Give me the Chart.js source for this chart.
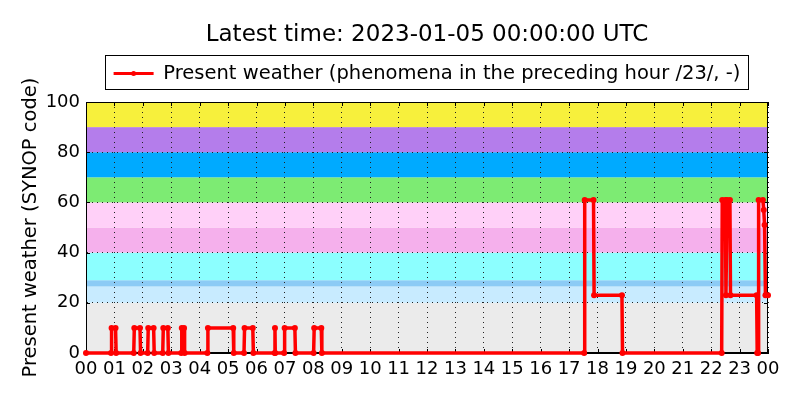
<!DOCTYPE html>
<html>
<head>
<meta charset="utf-8">
<script src="https://cdn.jsdelivr.net/npm/chart.js@4"></script>
<style>
body{margin:0;background:#fff;}
#wrap{width:800px;height:400px;}
</style>
</head>
<body>
<div id="wrap"><canvas id="myChart" width="800" height="400"></canvas></div>
<script>
// hours since 2023-01-04 00:00 UTC
var hours = [0,
  0.88,0.9,1.04,1.06,
  1.68,1.7,1.9,1.92,
  2.17,2.19,2.38,2.4,
  2.7,2.72,2.88,2.9,
  3.35,3.37,3.45,3.47,
  4.27,4.29,5.18,5.2,
  5.56,5.58,5.87,5.89,
  6.64,6.65,6.66,
  6.97,6.99,7.35,7.37,
  8.01,8.03,8.28,8.3,
  17.53,17.55,17.86,17.88,18.86,18.88,
  22.37,22.39,22.5,22.52,22.56,22.66,22.68,23.6,23.62,23.65,23.67,23.82,23.85,23.88,23.91,24];
var ww = [0,
  0,10,10,0,
  0,10,10,0,
  0,10,10,0,
  0,10,10,0,
  0,10,10,0,
  0,10,10,0,
  0,10,10,0,
  0,10,0,
  0,10,10,0,
  0,10,10,0,
  0,61,61,23,23,0,
  0,61,61,23,61,61,23,23,0,0,61,61,57,51,23,23];
var xTicks = ["00","01","02","03","04","05","06","07","08","09","10","11","12","13","14","15","16","17","18","19","20","21","22","23","00"];
var yTicks = [0,20,40,60,80,100];
// SYNOP code bands
var bandFrom = [0,20,26.5,29,40,50,60,70,80,90];
var bandTo   = [20,26.5,29,40,50,60,70,80,90,100];
var bandCol  = ["#ebebeb","#c8ebff","#8ccbf5","#8cffff","#f5b0ec","#ffd0f8","#7deb73","#00aaff","#b47deb","#f7f03c"];

var pts = [];
for(var i=0;i<hours.length;i++){ pts.push({x:hours[i], y:ww[i]}); }

var bands = {
  id:'bands',
  beforeDraw:function(chart){
    var c=chart.ctx, a=chart.chartArea, y=chart.scales.y;
    c.save();
    c.fillStyle='#fff'; c.fillRect(0,0,chart.width,chart.height);
    for(var i=0;i<bandFrom.length;i++){
      var t=y.getPixelForValue(bandTo[i]), b=y.getPixelForValue(bandFrom[i]);
      c.fillStyle=bandCol[i];
      c.fillRect(a.left,t,a.right-a.left,b-t);
    }
    c.restore();
  },
  beforeDatasetsDraw:function(chart){
    var c=chart.ctx, a=chart.chartArea, x=chart.scales.x, y=chart.scales.y;
    c.save();
    c.strokeStyle='#000'; c.lineWidth=1;
    c.strokeRect(a.left+0.5,a.top+0.5,a.right-a.left-1,a.bottom-a.top-1);
    c.beginPath();
    for(var h=0;h<=24;h++){
      var px=Math.round(x.getPixelForValue(h))+0.5;
      c.moveTo(px,a.bottom); c.lineTo(px,a.bottom-4);
      c.moveTo(px,a.top); c.lineTo(px,a.top+4);
    }
    for(var k=0;k<yTicks.length;k++){
      var py=Math.round(y.getPixelForValue(yTicks[k]))+0.5;
      c.moveTo(a.left,py); c.lineTo(a.left+4,py);
      c.moveTo(a.right,py); c.lineTo(a.right-4,py);
    }
    c.stroke();
    c.restore();
  },
  afterDraw:function(chart){
    var lg=chart.legend; if(!lg || !lg.legendHitBoxes.length) return;
    var hb=lg.legendHitBoxes[0], c=chart.ctx, cy=hb.top+hb.height/2;
    c.save();
    c.strokeStyle='#000'; c.lineWidth=1;
    c.strokeRect(Math.round(hb.left-9)+0.5,Math.round(hb.top-8.5)+0.5,Math.round(hb.width+16),Math.round(hb.height+14));
    c.strokeStyle='#ff0000'; c.lineWidth=3;
    c.beginPath(); c.moveTo(hb.left,cy); c.lineTo(hb.left+40,cy); c.stroke();
    c.fillStyle='#ff0000';
    c.beginPath(); c.arc(hb.left+20,cy,2.5,0,Math.PI*2); c.fill();
    c.restore();
  }
};

var legendGap = {
  id:'legendGap',
  beforeInit:function(chart){
    var fitOld=chart.legend.fit;
    chart.legend.fit=function(){ fitOld.bind(chart.legend)(); this.height+=8.75; };
  }
};

var ctx=document.getElementById('myChart').getContext('2d');
var chart=new Chart(ctx,{
  type:'line',
  data:{
    datasets:[{
      label:'Present weather (phenomena in the preceding hour /23/, -)',
      data:pts,
      borderColor:'#ff0000',
      backgroundColor:'#ff0000',
      borderWidth:3.5,
      pointRadius:3,
      pointBorderWidth:0,
      pointBackgroundColor:'#ff0000',
      fill:false,
      tension:0,
      clip:false
    }]
  },
  plugins:[bands,legendGap],
  options:{
    responsive:false,
    animation:false,
    layout:{padding:{left:0,right:32,top:0,bottom:0}},
    plugins:{
      tooltip:{enabled:false},
      title:{display:true,fullSize:false,text:'Latest time: 2023-01-05 00:00:00 UTC',color:'#000',
        font:{family:'DejaVu Sans',size:23,weight:'normal'},padding:{top:21.2,bottom:4.95}},
      legend:{display:true,fullSize:false,
        labels:{color:'#000',font:{family:'DejaVu Sans',size:19.5},boxWidth:40,boxHeight:18,padding:10,
          generateLabels:function(ch){
            return [{text:ch.data.datasets[0].label,fillStyle:'rgba(0,0,0,0)',strokeStyle:'rgba(0,0,0,0)',
              lineWidth:0,hidden:false,datasetIndex:0,fontColor:'#000'}];
          }}}
    },
    scales:{
      x:{type:'linear',min:0,max:24,
        afterFit:function(s){s.height=47;},
        afterBuildTicks:function(s){s.ticks=xTicks.map(function(t,i){return {value:i};});},
        ticks:{color:'#000',font:{family:'DejaVu Sans',size:18},padding:6,maxRotation:0,autoSkip:false,
          callback:function(v){return xTicks[v];}},
        grid:{color:'#222',lineWidth:1,drawTicks:false},
        border:{display:true,color:'#000',dash:[1,4]}
      },
      y:{min:0,max:100,
        afterFit:function(s){s.width=86;},
        afterBuildTicks:function(s){s.ticks=yTicks.map(function(t){return {value:t};});},
        ticks:{color:'#000',font:{family:'DejaVu Sans',size:18},padding:6},
        grid:{color:'#222',lineWidth:1,drawTicks:false},
        border:{display:true,color:'#000',dash:[1,4]},
        title:{display:true,text:'Present weather (SYNOP code)',color:'#000',
          font:{family:'DejaVu Sans',size:19.5},padding:{top:19,bottom:0}}
      }
    }
  }
});
</script>
</body>
</html>
